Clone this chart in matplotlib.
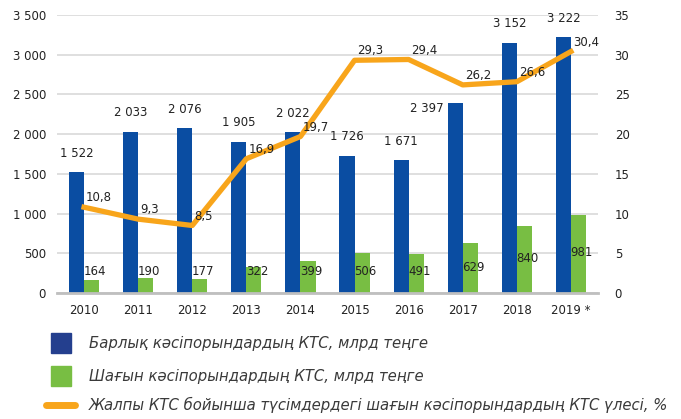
import numpy as np
import matplotlib.pyplot as plt
from matplotlib.patches import Rectangle
from matplotlib.lines import Line2D

# Дані
years = ['2010', '2011', '2012', '2013', '2014', '2015', '2016', '2017', '2018', '2019 *']
total_kts = [1522, 2033, 2076, 1905, 2022, 1726, 1671, 2397, 3152, 3222]
small_kts = [164, 190, 177, 322, 399, 506, 491, 629, 840, 981]
share = [10.8, 9.3, 8.5, 16.9, 19.7, 29.3, 29.4, 26.2, 26.6, 30.4]

legend_labels = [
    'Барлық кәсіпорындардың КТС, млрд теңге',
    'Шағын кәсіпорындардың КТС, млрд теңге',
    'Жалпы КТС бойынша түсімдердегі шағын кәсіпорындардың КТС үлесі, %',
]

BLUE = '#0a4da2'
BLUE_LEG = '#243f8e'
GREEN = '#78be43'
ORANGE = '#f8a51b'
TXT = '#222222'


def fmt_thousands(v):
    return f'{int(v):,}'.replace(',', ' ')


fig = plt.figure(figsize=(6.81, 4.19), dpi=100)
ax = fig.add_axes([57 / 681, 1 - 293 / 419, (598 - 57) / 681, (293 - 15) / 419])
ax2 = ax.twinx()

x = np.arange(len(years))
w = 0.28

ax.bar(x - w / 2, total_kts, width=w, color=BLUE, zorder=2)
ax.bar(x + w / 2, small_kts, width=w, color=GREEN, zorder=2)

ax.set_xlim(-0.5, len(years) - 0.5)
ax.set_ylim(0, 3500)
ax.set_yticks(np.arange(0, 3501, 500))
ax.set_yticklabels([fmt_thousands(v) for v in np.arange(0, 3501, 500)])
ax.yaxis.grid(True, color='#d9d9d9', linewidth=1.2, zorder=0)
ax.set_axisbelow(True)

ax2.set_ylim(0, 35)
ax2.set_yticks(np.arange(0, 36, 5))
ax2.plot(x, share, color=ORANGE, linewidth=3.8, solid_joinstyle='round', zorder=3)

for a in (ax, ax2):
    for s in ('top', 'left', 'right', 'bottom'):
        a.spines[s].set_visible(False)
    a.tick_params(length=0, labelsize=8.5, colors=TXT)
ax.spines['bottom'].set_visible(True)
ax.spines['bottom'].set_color('#bfbfbf')
ax.spines['bottom'].set_linewidth(2)
ax.set_xticks(x)
ax.set_xticklabels(years)
ax.tick_params(axis='x', pad=8)
ax.tick_params(axis='y', pad=8)
ax2.tick_params(axis='y', pad=12)

# Підписи над синіми стовпцями
for i, v in enumerate(total_kts):
    if i == 7:
        ax.annotate(fmt_thousands(v), (x[i] - w, v), xytext=(-3, -4),
                    textcoords='offset points', ha='right', va='center',
                    fontsize=8.5, color=TXT)
    else:
        ax.annotate(fmt_thousands(v), (x[i] - w / 2, v), xytext=(0, 9),
                    textcoords='offset points', ha='center', va='bottom',
                    fontsize=8.5, color=TXT)

# Підписи на зелених стовпцях
for i, v in enumerate(small_kts):
    ax.text(x[i] - 0.01, max(v * 0.52, 265), str(v), ha='left', va='center',
            fontsize=8.5, color=TXT, zorder=4)

# Підписи лінії
for i, v in enumerate(share):
    ax2.annotate(f'{v:.1f}'.replace('.', ','), (x[i], v), xytext=(1.5, 2),
                 textcoords='offset points', ha='left', va='bottom',
                 fontsize=8.5, color=TXT, zorder=4)

# Легенда
rows_y = [343, 376, 405]
fig.add_artist(Rectangle((51 / 681, 1 - 353 / 419), 20 / 681, 20 / 419,
                         transform=fig.transFigure, color=BLUE_LEG))
fig.add_artist(Rectangle((51 / 681, 1 - 386 / 419), 20 / 681, 20 / 419,
                         transform=fig.transFigure, color=GREEN))
fig.add_artist(Line2D([46 / 681, 75 / 681], [1 - 405 / 419, 1 - 405 / 419],
                      transform=fig.transFigure, color=ORANGE, linewidth=5,
                      solid_capstyle='round'))
for yy, lab in zip(rows_y, legend_labels):
    fig.text(89 / 681, 1 - yy / 419, lab, ha='left', va='center', fontsize=10.7,
             style='italic', color='#3a3a3a', family='DejaVu Sans')

fig.savefig('out.png', dpi=100)
